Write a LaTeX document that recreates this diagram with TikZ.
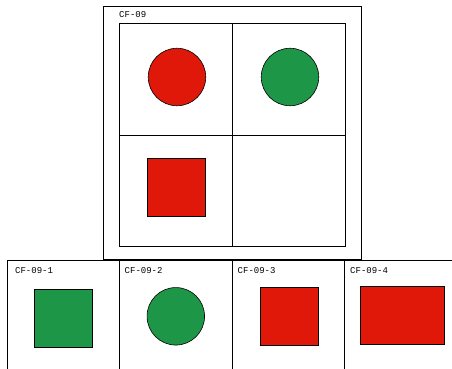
\documentclass[tikz,border=0pt]{standalone}
\usepackage{fontspec}
\setmonofont{Liberation Mono}
\definecolor{cfred}{RGB}{224,24,10}
\definecolor{cfgreen}{RGB}{30,150,72}
\tikzset{
  frame/.style={draw=black, line width=0.8pt, fill=white, inner sep=0pt, anchor=north west},
  cell/.style={draw=black, line width=0.8pt, inner sep=0pt, anchor=north west, minimum width=113pt, minimum height=111.5pt},
  lbl/.style={font=\ttfamily\fontsize{9}{10}\selectfont, inner sep=0pt, anchor=west},
  redsq/.style={draw=black, line width=0.6pt, fill=cfred, inner sep=0pt},
  grnsq/.style={draw=black, line width=0.6pt, fill=cfgreen, inner sep=0pt},
  redc/.style={circle, draw=black, line width=0.6pt, fill=cfred, inner sep=0pt, minimum size=57.5pt},
  grnc/.style={circle, draw=black, line width=0.6pt, fill=cfgreen, inner sep=0pt, minimum size=57.5pt},
}
\begin{document}
\begin{tikzpicture}[x=1pt,y=-1pt]
\useasboundingbox (0,0) rectangle (452,368);
\clip (0,0) rectangle (452,368);
% main frame
\node[frame, minimum width=258pt, minimum height=253pt] (main) at (103,6) {};
\node[lbl] (mainlbl) at (119,15) {CF-09};
% grid cells
\node[cell] (c11) at (119,23) {};
\node[cell] (c12) at (232,23) {};
\node[cell] (c21) at (119,134.5) {};
\node[cell] (c22) at (232,134.5) {};
\node[redc] (rc) at (177,77) {};
\node[grnc] (gc) at (290,77) {};
\node[redsq, minimum width=58pt, minimum height=58pt] (rs) at (176.7,187) {};
% bottom boxes
\node[frame, minimum width=112.3pt, minimum height=130pt] (b1) at (7,260) {};
\node[frame, minimum width=112.3pt, minimum height=130pt] (b2) at (119.3,260) {};
\node[frame, minimum width=112.3pt, minimum height=130pt] (b3) at (231.7,260) {};
\node[frame, minimum width=112.3pt, minimum height=130pt] (b4) at (344,260) {};
\node[lbl] (l1) at (15,270.5) {CF-09-1};
\node[lbl] (l2) at (124.5,270.5) {CF-09-2};
\node[lbl] (l3) at (237.5,270.5) {CF-09-3};
\node[lbl] (l4) at (350,270.5) {CF-09-4};
\node[grnsq, minimum width=58pt, minimum height=58pt] (s1) at (63.3,318.2) {};
\node[grnc] (s2) at (175.8,316.3) {};
\node[redsq, minimum width=58pt, minimum height=58pt] (s3) at (288.8,316.7) {};
\node[redsq, minimum width=83.7pt, minimum height=58pt] (s4) at (402.2,315.7) {};
\end{tikzpicture}
\end{document}
